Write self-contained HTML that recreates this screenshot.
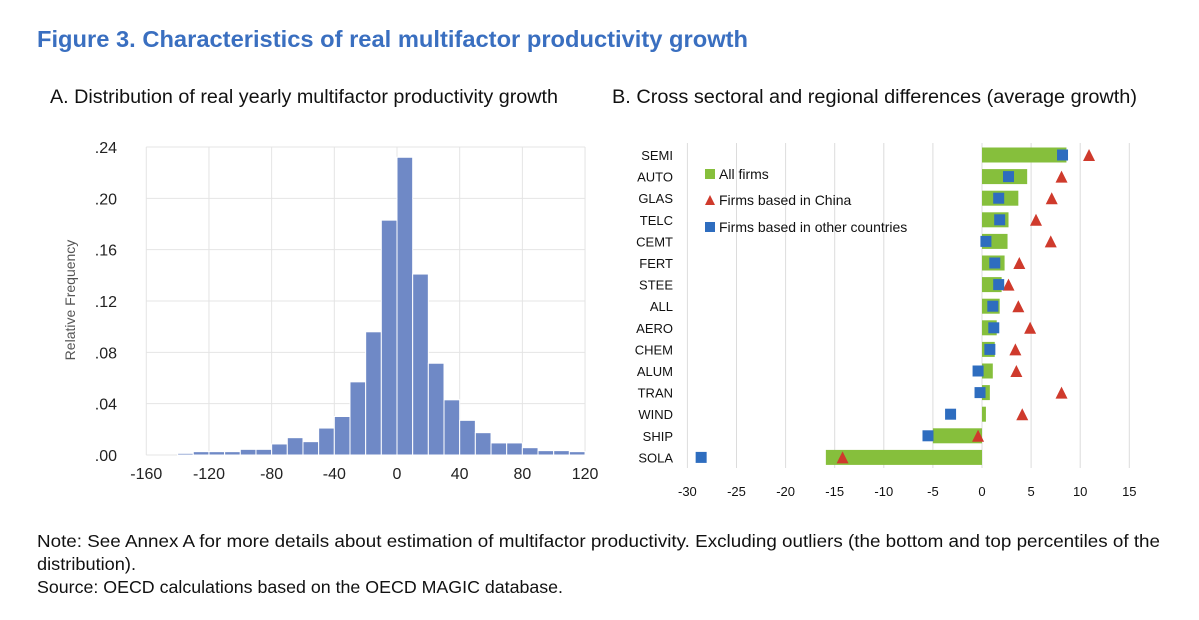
<!DOCTYPE html>
<html><head><meta charset="utf-8"><style>
html,body{margin:0;padding:0;background:#fff;}
svg{display:block;font-family:"Liberation Sans",sans-serif;}
</style></head><body>
<svg id="fig" width="1199" height="620" viewBox="0 0 1199 620">
<text x="37" y="47" font-size="23" font-weight="bold" fill="#3a6fc0" textLength="711" lengthAdjust="spacingAndGlyphs">Figure 3. Characteristics of real multifactor productivity growth</text>
<text x="50" y="103" font-size="19" fill="#111" textLength="508" lengthAdjust="spacingAndGlyphs">A. Distribution of real yearly multifactor productivity growth</text>
<text x="612" y="103" font-size="19" fill="#111" textLength="525" lengthAdjust="spacingAndGlyphs">B. Cross sectoral and regional differences (average growth)</text>
<g id="hist"></g>
<g id="dot"></g>
<text x="37" y="547" font-size="17.5" fill="#111" textLength="1123" lengthAdjust="spacingAndGlyphs">Note: See Annex A for more details about estimation of multifactor productivity. Excluding outliers (the bottom and top percentiles of the</text>
<text x="37" y="570" font-size="17.5" fill="#111" textLength="99" lengthAdjust="spacingAndGlyphs">distribution).</text>
<text x="37" y="593" font-size="17.5" fill="#111" textLength="526" lengthAdjust="spacingAndGlyphs">Source: OECD calculations based on the OECD MAGIC database.</text>
</svg>
<script>
const NS="http://www.w3.org/2000/svg";
function mk(p,t,a){const e=document.createElementNS(NS,t);for(const k in a)e.setAttribute(k,a[k]);p.appendChild(e);return e;}

// Histogram data
const binStarts=[-140,-130,-120,-110,-100,-90,-80,-70,-60,-50,-40,-30,-20,-10,0,10,20,30,40,50,60,70,80,90,100,110];
const binFreq=[.0013,.0026,.0026,.0026,.0044,.0044,.0086,.0135,.0104,.021,.030,.057,.096,.183,.232,.141,.0715,.043,.027,.0174,.0094,.0094,.0057,.0034,.0034,.0026];
const histXTicks=[-160,-120,-80,-40,0,40,80,120];
const histYTicks=[0,.04,.08,.12,.16,.20,.24];
const histYLabels=[".00",".04",".08",".12",".16",".20",".24"];

// Sector data
const sectors=["SEMI","AUTO","GLAS","TELC","CEMT","FERT","STEE","ALL","AERO","CHEM","ALUM","TRAN","WIND","SHIP","SOLA"];
const allFirms=[8.6,4.6,3.7,2.7,2.6,2.3,2.0,1.8,1.5,1.3,1.1,0.8,0.4,-5.0,-15.9];
const chinaFirms=[10.9,8.1,7.1,5.5,7.0,3.8,2.7,3.7,4.9,3.4,3.5,8.1,4.1,-0.4,-14.2];
const otherFirms=[8.2,2.7,1.7,1.8,0.4,1.3,1.7,1.1,1.2,0.8,-0.4,-0.2,-3.2,-5.5,-28.6];
const dotXTicks=[-30,-25,-20,-15,-10,-5,0,5,10,15];

(function(){
const g=document.getElementById('hist');
const hx=v=>397+v*1.567, hy=v=>455-v*(455-147)/0.24;
histYTicks.forEach((t,i)=>{
  const l=mk(g,'line',{x1:hx(-160),x2:hx(120),y1:hy(t),y2:hy(t),stroke:'#e4e4e4','stroke-width':1});
  
  
  const tx=mk(g,'text',{x:117,y:hy(t)+6,'font-size':16,'text-anchor':'end',fill:'#222'});tx.textContent=histYLabels[i];
  
  
});
histXTicks.forEach(t=>{
  const l=mk(g,'line',{x1:hx(t),x2:hx(t),y1:147,y2:455,stroke:'#e4e4e4','stroke-width':1});
  
  
  const tx=mk(g,'text',{x:hx(t),y:479,'font-size':16,'text-anchor':'middle',fill:'#222'});tx.textContent=t;
  
  
});
binStarts.forEach((s,i)=>{
  const x0=hx(s),x1=hx(s+10),y=hy(binFreq[i]);
  const r=mk(g,'rect',{x:x0,y:y,width:x1-x0,height:455-y,fill:'#6f89c6',stroke:'#fff','stroke-width':1});
  
  
});
const yl=mk(g,'text',{x:0,y:0,'font-size':14,fill:'#555','text-anchor':'middle',transform:'translate(75,300) rotate(-90)'});yl.textContent='Relative Frequency';


})();

(function(){
const g=document.getElementById('dot');
const dx=v=>982+v*9.82, dy=i=>155+i*21.6;
dotXTicks.forEach(t=>{
  const l=mk(g,'line',{x1:dx(t),x2:dx(t),y1:143,y2:468,stroke:'#dcdcdc','stroke-width':1});
  
  
  const tx=mk(g,'text',{x:dx(t),y:496,'font-size':13,'text-anchor':'middle',fill:'#111'});tx.textContent=t;
  
  
});
sectors.forEach((s,i)=>{
  const y=dy(i);
  const tx=mk(g,'text',{x:673,y:y+5,'font-size':13,'text-anchor':'end',fill:'#111'});tx.textContent=s;
  
  
  const a=allFirms[i];
  const r=mk(g,'rect',{x:Math.min(dx(0),dx(a)),y:y-7.5,width:Math.abs(dx(a)-dx(0)),height:15,fill:'#86bf3c'});
  
  
  const cx=dx(chinaFirms[i]);
  const t=mk(g,'polygon',{points:`${cx-6},${y+6} ${cx+6},${y+6} ${cx},${y-6}`,fill:'#cf3a2c'});
  
  
  const ox=dx(otherFirms[i]);
  const q=mk(g,'rect',{x:ox-5.5,y:y-5.5,width:11,height:11,fill:'#2e6dbf'});
  
  
});
const L=[['sq','#86bf3c','All firms',174],['tri','#cf3a2c','Firms based in China',200],['sq','#2e6dbf','Firms based in other countries',227]];
L.forEach(e=>{
  const y=e[3];
  if(e[0]=='sq'){const r=mk(g,'rect',{x:705,y:y-5,width:10,height:10,fill:e[1]});}
  else{const p=mk(g,'polygon',{points:`705,${y+5} 715,${y+5} 710,${y-5}`,fill:e[1]});}
  const tx=mk(g,'text',{x:719,y:y+5,'font-size':14,fill:'#111'});tx.textContent=e[2];
  
  
});
})();
</script>
</body></html>
